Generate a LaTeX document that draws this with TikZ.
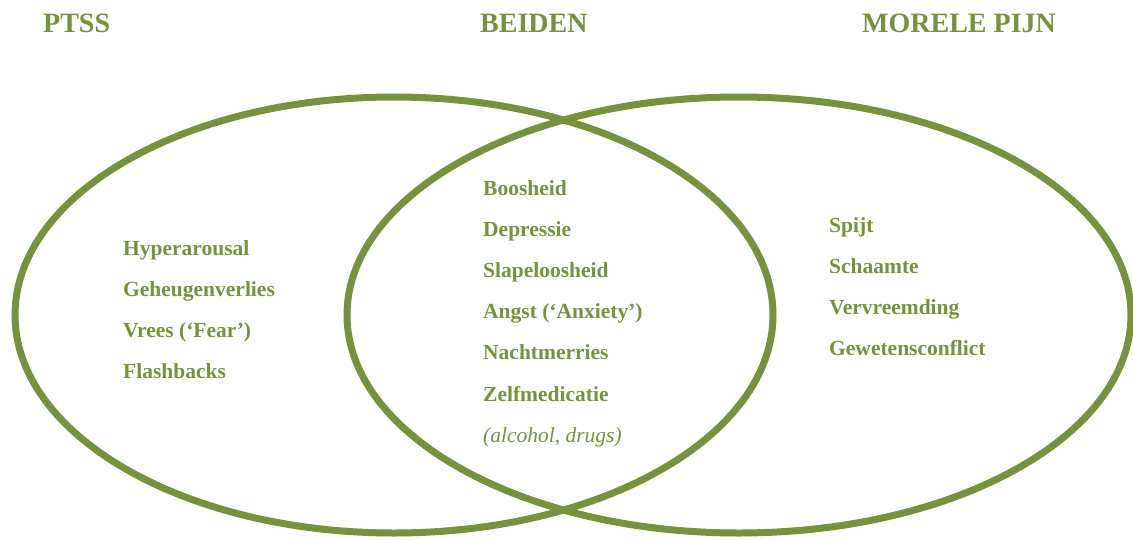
\documentclass[tikz,border=0pt]{standalone}
\usepackage{fontspec}
\setmainfont{Liberation Serif}
\usepackage{xcolor}
\usepackage{tikz}
\usetikzlibrary{shapes, positioning}

\definecolor{olive}{HTML}{76923C}

\begin{document}
\begin{tikzpicture}[
        x=1pt, y=-1pt,
        set/.style={ellipse, draw=olive, line width=7pt, inner sep=0pt},
        title/.style={anchor=base west, inner sep=0pt, text=olive, font=\fontsize{28}{28}\selectfont\bfseries},
        item/.style={anchor=base west, inner sep=0pt, text=olive, font=\fontsize{21.5}{22}\selectfont\bfseries},
        note/.style={anchor=base west, inner sep=0pt, text=olive, font=\fontsize{21.5}{22}\selectfont\itshape}
    ]
        \useasboundingbox (0,0) rectangle (1133,539);

        % Sets
        \node[set, minimum width=758pt, minimum height=436pt] (ptss) at (394,315) {};
        \node[set, minimum width=784pt, minimum height=436pt] (moreel) at (739,315) {};

        % Titles
        \node[title] (tptss) at (43,32) {PTSS};
        \node[title] (tbeiden) at (480,32) {BEIDEN};
        \node[title] (tmoreel) at (862,32) {MORELE PIJN};

        % PTSS only
        \node[item] (hyper) at (123,255) {Hyperarousal};
        \node[item, below=41pt of hyper.base west, anchor=base west] (geheugen) {Geheugenverlies};
        \node[item, below=41pt of geheugen.base west, anchor=base west] (vrees) {Vrees (‘Fear’)};
        \node[item, below=41pt of vrees.base west, anchor=base west] (flash) {Flashbacks};

        % Both
        \node[item] (boos) at (483,195) {Boosheid};
        \node[item, below=41.2pt of boos.base west, anchor=base west] (depressie) {Depressie};
        \node[item, below=41.2pt of depressie.base west, anchor=base west] (slaap) {Slapeloosheid};
        \node[item, below=41.2pt of slaap.base west, anchor=base west] (angst) {Angst (‘Anxiety’)};
        \node[item, below=41.2pt of angst.base west, anchor=base west] (nacht) {Nachtmerries};
        \node[item, below=41.2pt of nacht.base west, anchor=base west] (zelf) {Zelfmedicatie};
        \node[note, below=41.2pt of zelf.base west, anchor=base west] (alcohol) {(alcohol, drugs)};

        % Moral injury only
        \node[item] (spijt) at (829,232) {Spijt};
        \node[item, below=41pt of spijt.base west, anchor=base west] (schaamte) {Schaamte};
        \node[item, below=41pt of schaamte.base west, anchor=base west] (vervreemding) {Vervreemding};
        \node[item, below=41pt of vervreemding.base west, anchor=base west] (geweten) {Gewetensconflict};

    \end{tikzpicture}
\end{document}
